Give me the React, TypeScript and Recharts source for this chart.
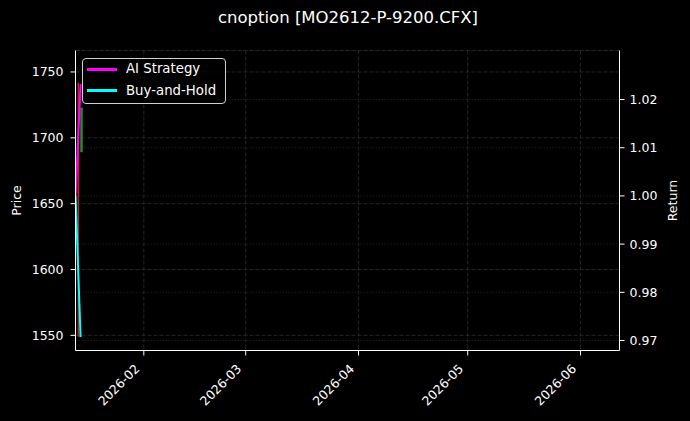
import React from 'react';
import { ComposedChart, Line, XAxis, YAxis, CartesianGrid, Legend } from 'recharts';

const FONT = '"DejaVu Sans", sans-serif';
const chartTitle = 'cnoption [MO2612-P-9200.CFX]';

// Return series (right axis)
const returnDates = ['2026-01-13T06:00', '2026-01-14T15:00'];
const aiStrategy = [1.0, 1.0232];
const buyAndHold = [1.0, 0.9707];

// Price range segments (left axis)
const redBarDates = ['2026-01-14T00:00', '2026-01-14T00:00'];
const redBarPrices = [1742, 1549];
const greenBarDates = ['2026-01-14T21:00', '2026-01-14T21:00'];
const greenBarPrices = [1723, 1689];

// Axes
const xTickLabels = ['2026-02', '2026-03', '2026-04', '2026-05', '2026-06'];
const xDomainDates = ['2026-01-13T05:30', '2026-06-11T17:00'];
const priceTicks = [1550, 1600, 1650, 1700, 1750];
const priceDomain = [1538.5, 1766.3];
const returnTicks = [0.97, 0.98, 0.99, 1.0, 1.01, 1.02];
const returnDomain = [0.96793, 1.03017];

const legendItems = [
  { name: 'AI Strategy', color: '#ff00ff' },
  { name: 'Buy-and-Hold', color: '#00ffff' },
];

const ts = (s: string) => Date.parse(s + ':00Z');
const monthTs = (m: string) => Date.parse(m + '-01T00:00:00Z');
const fmtMonth = (v: number) => {
  const d = new Date(v);
  return `${d.getUTCFullYear()}-${String(d.getUTCMonth() + 1).padStart(2, '0')}`;
};
const rows = (dates: string[], vals: number[]) => dates.map((d, i) => ({ t: ts(d), v: vals[i] }));

const aiData = rows(returnDates, aiStrategy);
const bhData = rows(returnDates, buyAndHold);
const redData = rows(redBarDates, redBarPrices);
const greenData = rows(greenBarDates, greenBarPrices);
const xTicks = xTickLabels.map(monthTs);
const xDomain = xDomainDates.map(ts);

const XTick = (props: any) => {
  const { x, y, payload } = props;
  const ax = x - 3.5;
  const ay = y + 12;
  return (
    <text x={ax} y={ay} transform={`rotate(-45, ${ax}, ${ay})`} textAnchor="end" fill="#fff" fontSize={12.5} fontFamily={FONT}>
      {fmtMonth(payload.value)}
    </text>
  );
};

const LegendBox = () => (
  <div
    style={{
      boxSizing: 'border-box',
      width: 144,
      height: 46,
      border: '1px solid #cfcfcf',
      borderRadius: 4,
      background: 'rgba(0,0,0,0.8)',
      position: 'relative',
      fontFamily: FONT,
      fontSize: 13.3,
      color: '#fff',
    }}
  >
    {legendItems.map((it, i) => (
      <div
        key={it.name}
        style={{ position: 'absolute', left: 4, top: 2 + i * 21.7, height: 16, display: 'flex', alignItems: 'center', whiteSpace: 'nowrap' }}
      >
        <span style={{ display: 'inline-block', width: 30, height: 3, background: it.color, marginRight: 9 }} />
        <span style={{ lineHeight: '16px' }}>{it.name}</span>
      </div>
    ))}
  </div>
);

const axisStroke = { stroke: '#fff', strokeWidth: 1 };

export default function App() {
  return (
    <div style={{ position: 'absolute', left: 0, top: 0, width: 690, height: 421, background: '#000', overflow: 'hidden' }}>
      <div
        style={{
          position: 'absolute',
          left: 0,
          top: 7,
          width: 696,
          height: 22,
          lineHeight: '22px',
          textAlign: 'center',
          color: '#fff',
          fontFamily: FONT,
          fontSize: 16.5,
        }}
      >
        {chartTitle}
      </div>
      <ComposedChart width={690} height={421} margin={{ top: 50.5, right: 0, left: 0, bottom: 0 }}>
        <CartesianGrid xAxisId="bottom" yAxisId="left" stroke="#2e2e2e" strokeDasharray="4 2" strokeWidth={0.8} />
        <CartesianGrid xAxisId="bottom" yAxisId="right" vertical={false} stroke="#242424" strokeDasharray="1.5 1.5" strokeWidth={0.8} />
        <XAxis
          xAxisId="bottom"
          dataKey="t"
          type="number"
          domain={xDomain}
          allowDataOverflow
          ticks={xTicks}
          interval={0}
          tick={<XTick />}
          tickSize={5}
          height={70.5}
          axisLine={axisStroke}
          tickLine={{ stroke: '#fff' }}
        />
        <XAxis
          xAxisId="top"
          orientation="top"
          dataKey="t"
          type="number"
          domain={xDomain}
          allowDataOverflow
          height={0}
          tick={false}
          tickLine={false}
          axisLine={axisStroke}
        />
        <YAxis
          yAxisId="left"
          width={75.5}
          domain={priceDomain}
          allowDataOverflow
          ticks={priceTicks}
          interval={0}
          tickSize={5}
          tickMargin={7}
          tick={{ fill: '#fff', fontSize: 12.5, fontFamily: FONT }}
          axisLine={axisStroke}
          tickLine={{ stroke: '#fff' }}
          label={{ value: 'Price', angle: -90, position: 'center', dx: -21, fill: '#fff', fontSize: 12.5, fontFamily: FONT }}
        />
        <YAxis
          yAxisId="right"
          orientation="right"
          width={70.5}
          domain={returnDomain}
          allowDataOverflow
          ticks={returnTicks}
          interval={0}
          tickSize={5}
          tickMargin={5}
          tickFormatter={(v: number) => v.toFixed(2)}
          tick={{ fill: '#fff', fontSize: 12.5, fontFamily: FONT }}
          axisLine={axisStroke}
          tickLine={{ stroke: '#fff' }}
          label={{ value: 'Return', angle: -90, position: 'center', dx: 18, fill: '#fff', fontSize: 12.5, fontFamily: FONT }}
        />
        <Line xAxisId="bottom" yAxisId="left" data={redData} dataKey="v" stroke="#c8201c" strokeWidth={1.5} dot={false} isAnimationActive={false} legendType="none" />
        <Line xAxisId="bottom" yAxisId="left" data={greenData} dataKey="v" stroke="#2a8a2a" strokeWidth={2.5} dot={false} isAnimationActive={false} legendType="none" />
        <Line xAxisId="bottom" yAxisId="right" data={aiData} dataKey="v" name="AI Strategy" stroke="#ff00ff" strokeWidth={2} dot={false} isAnimationActive={false} />
        <Line xAxisId="bottom" yAxisId="right" data={bhData} dataKey="v" name="Buy-and-Hold" stroke="#00ffff" strokeWidth={2} dot={false} isAnimationActive={false} />
        <Legend
          layout="vertical"
          align="center"
          verticalAlign="middle"
          content={<LegendBox />}
          wrapperStyle={{ position: 'absolute', left: 82, top: 58, width: 144, height: 46 }}
        />
      </ComposedChart>
    </div>
  );
}
